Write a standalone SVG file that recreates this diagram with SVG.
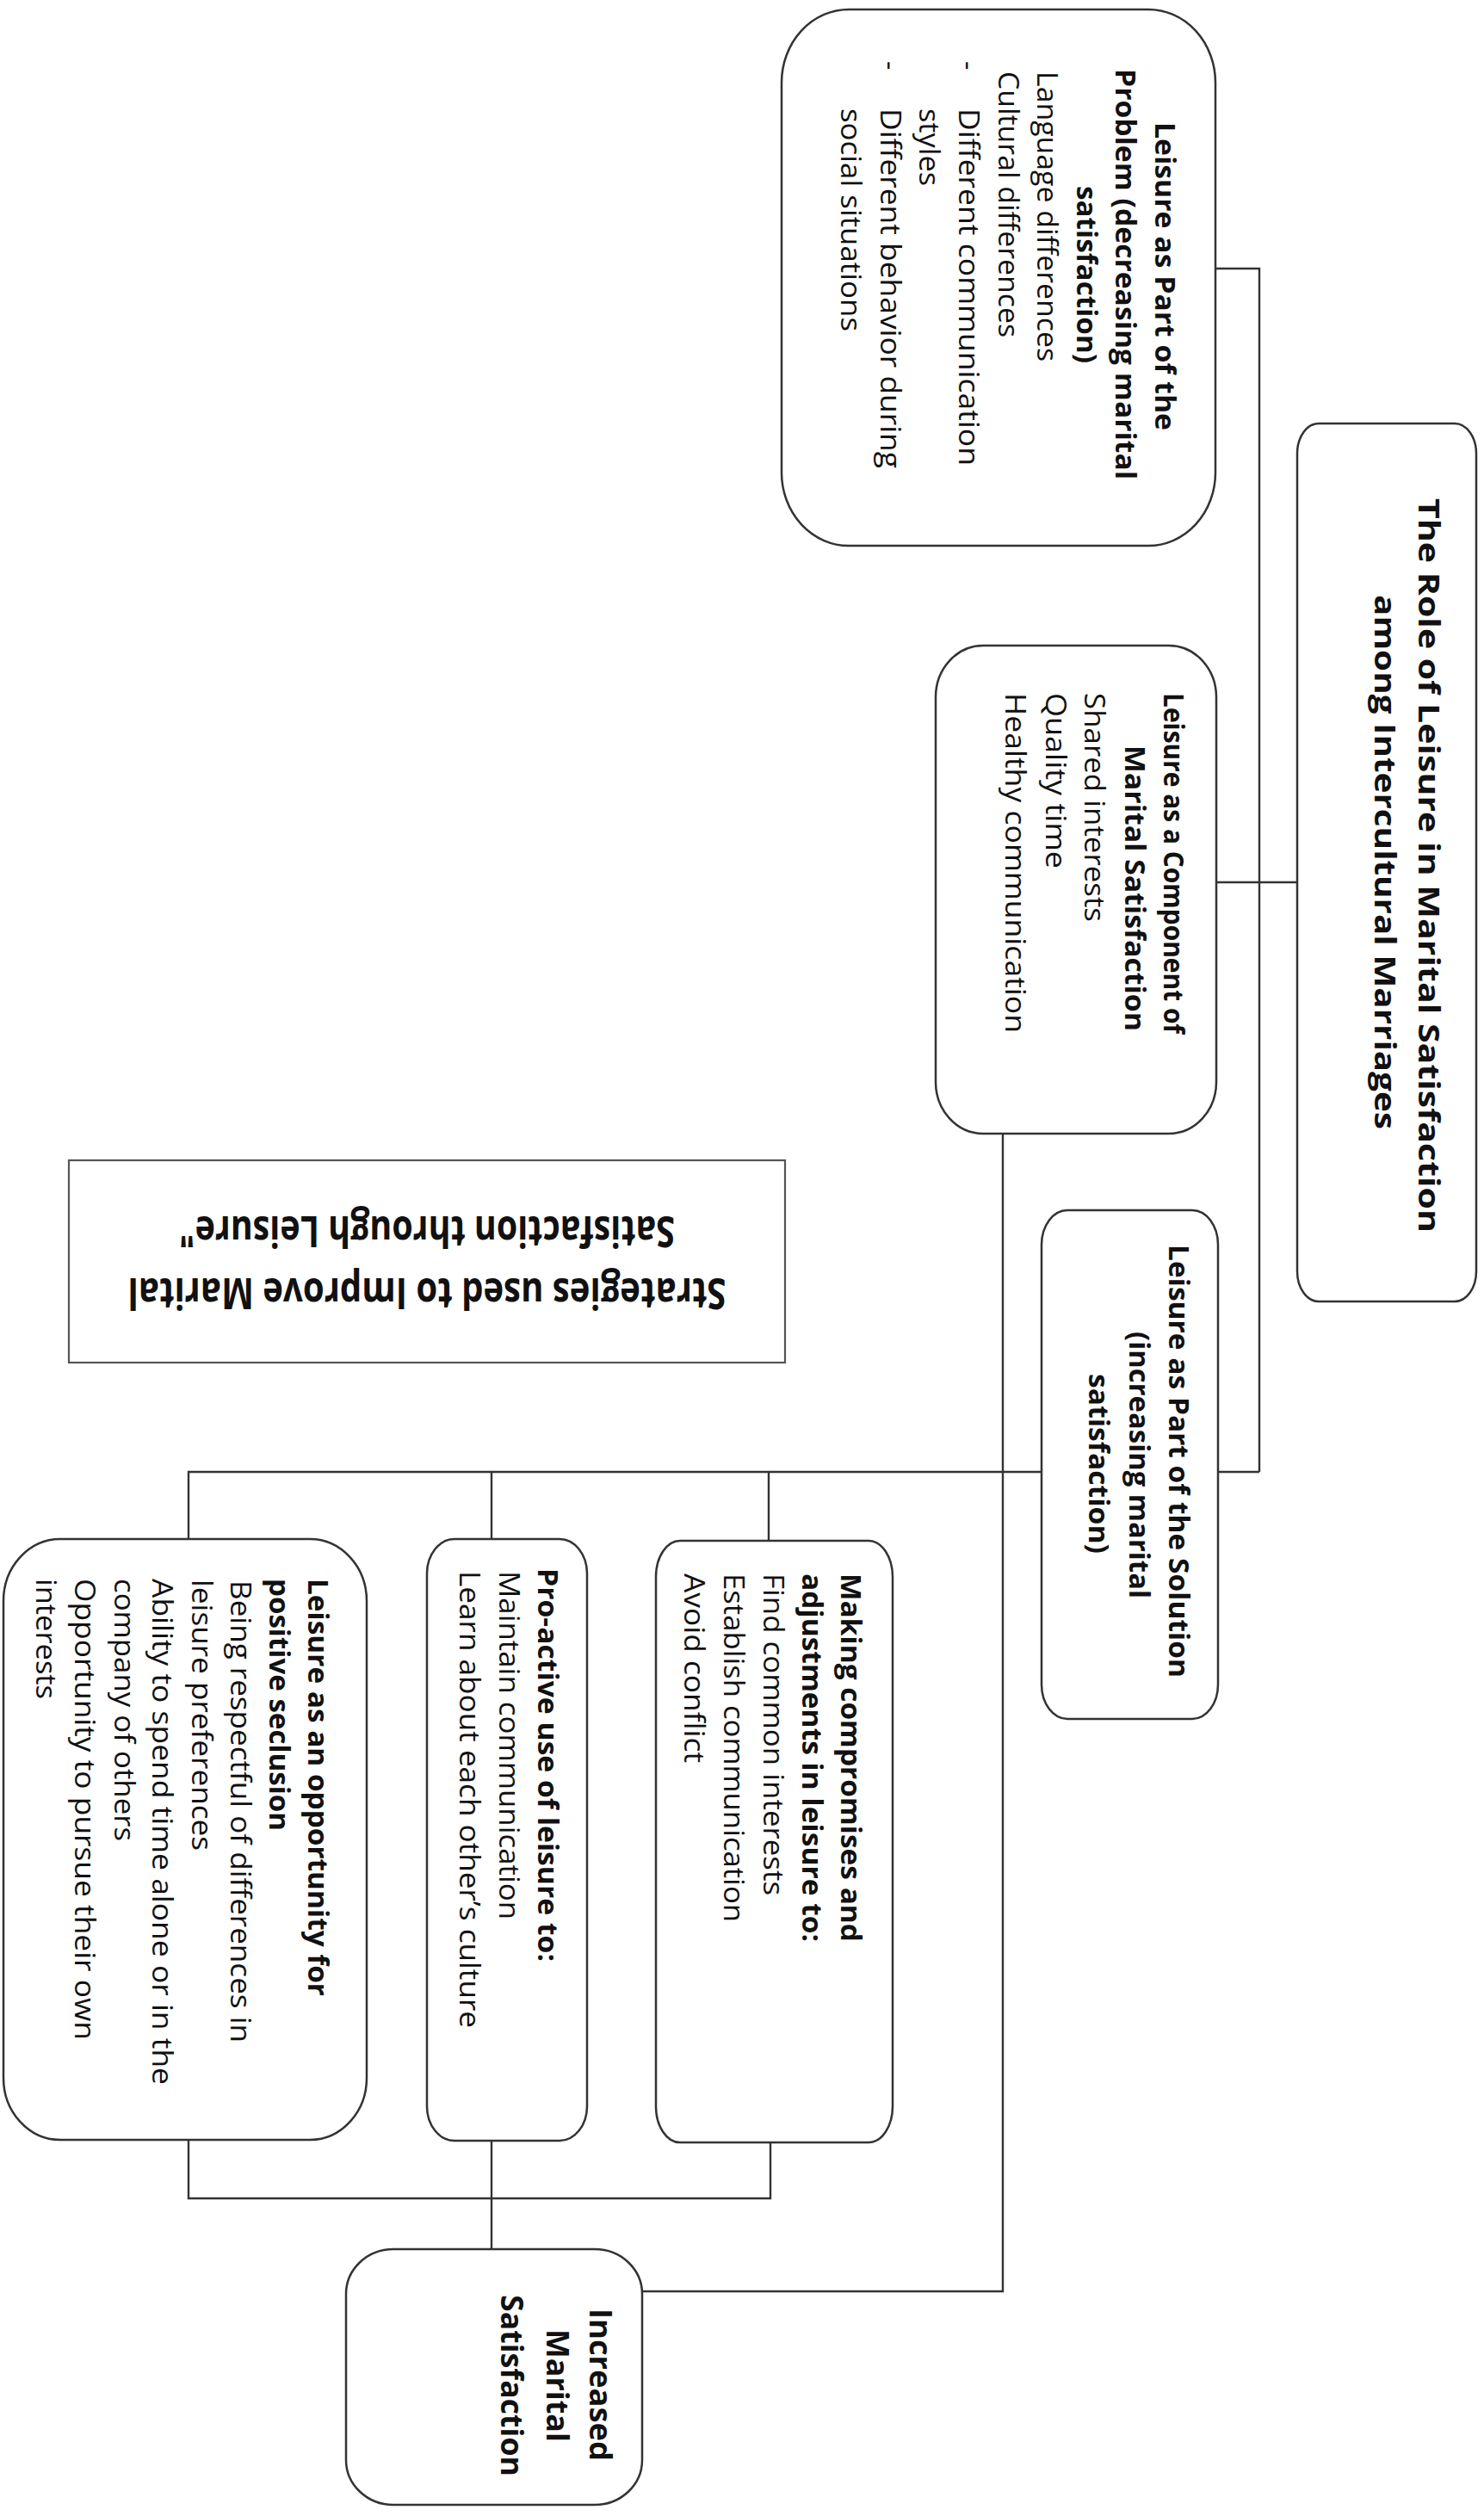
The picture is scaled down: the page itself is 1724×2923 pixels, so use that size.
<svg xmlns="http://www.w3.org/2000/svg" width="1724" height="2923" viewBox="0 0 1724 2923">
<style>
.box{fill:#fff;stroke:#333;stroke-width:2.5}
.plain{fill:#fff;stroke:#555;stroke-width:2.2}
.conn{fill:none;stroke:#333;stroke-width:2.4}
text{font-family:"Open Sans","Liberation Sans",sans-serif;fill:#111;font-size:32px}
.b{font-weight:700}
.ttl{font-size:34px;font-weight:700}
.big{font-size:36px}
.str{font-size:40px;font-weight:700}
</style>
<rect width="1724" height="2923" fill="#fff"/>
<g id="connectors">
<path class="conn" d="M1412,312 H1463 V1710"/>
<path class="conn" d="M1413,1025 H1507"/>
<path class="conn" d="M1415,1710 H1463"/>
<path class="conn" d="M1210,1710 H219 V1788"/>
<path class="conn" d="M571,1710 V1788"/>
<path class="conn" d="M893,1710 V1790"/>
<path class="conn" d="M219,2487 V2554 H895 V2489"/>
<path class="conn" d="M571,2487 V2613"/>
<path class="conn" d="M1165,1317 V2662 H746"/>
</g>
<g id="node-title">
<rect class="box" x="1507" y="492" width="208" height="1020" rx="25" ry="35"/>
<text class="ttl" transform="translate(1648,579) rotate(90)" textLength="853" lengthAdjust="spacingAndGlyphs">The Role of Leisure in Marital Satisfaction</text>
<text class="ttl" transform="translate(1597,691) rotate(90)" textLength="621" lengthAdjust="spacingAndGlyphs">among Intercultural Marriages</text>
</g>
<g id="node-problem">
<rect class="box" x="908" y="11" width="504" height="623" rx="78" ry="85"/>
<text class="b" transform="translate(1342,142) rotate(90)" textLength="358" lengthAdjust="spacingAndGlyphs">Leisure as Part of the</text>
<text class="b" transform="translate(1296,80) rotate(90)" textLength="477" lengthAdjust="spacingAndGlyphs">Problem (decreasing marital</text>
<text class="b" transform="translate(1251,216) rotate(90)" textLength="206" lengthAdjust="spacingAndGlyphs">satisfaction)</text>
<text transform="translate(1205,83) rotate(90)" textLength="337" lengthAdjust="spacingAndGlyphs">Language differences</text>
<text transform="translate(1160,83) rotate(90)" textLength="309" lengthAdjust="spacingAndGlyphs">Cultural differences</text>
<text transform="translate(1114,71) rotate(90)">-</text>
<text transform="translate(1114,126) rotate(90)" textLength="415" lengthAdjust="spacingAndGlyphs">Different communication</text>
<text transform="translate(1068,126) rotate(90)" textLength="90" lengthAdjust="spacingAndGlyphs">styles</text>
<text transform="translate(1023,71) rotate(90)">-</text>
<text transform="translate(1023,126) rotate(90)" textLength="418" lengthAdjust="spacingAndGlyphs">Different behavior during</text>
<text transform="translate(977,126) rotate(90)" textLength="259" lengthAdjust="spacingAndGlyphs">social situations</text>
</g>
<g id="node-component">
<rect class="box" x="1087" y="750" width="326" height="567" rx="55" ry="60"/>
<text class="b" transform="translate(1352,805) rotate(90)" textLength="396" lengthAdjust="spacingAndGlyphs">Leisure as a Component of</text>
<text class="b" transform="translate(1307,866) rotate(90)" textLength="332" lengthAdjust="spacingAndGlyphs">Marital Satisfaction</text>
<text transform="translate(1260,805) rotate(90)" textLength="266" lengthAdjust="spacingAndGlyphs">Shared interests</text>
<text transform="translate(1215,805) rotate(90)" textLength="204" lengthAdjust="spacingAndGlyphs">Quality time</text>
<text transform="translate(1168,805) rotate(90)" textLength="395" lengthAdjust="spacingAndGlyphs">Healthy communication</text>
</g>
<g id="node-solution">
<rect class="box" x="1210" y="1406" width="205" height="591" rx="30" ry="40"/>
<text class="b" transform="translate(1358,1446) rotate(90)" textLength="503" lengthAdjust="spacingAndGlyphs">Leisure as Part of the Solution</text>
<text class="b" transform="translate(1312,1547) rotate(90)" textLength="310" lengthAdjust="spacingAndGlyphs">(increasing marital</text>
<text class="b" transform="translate(1265,1596) rotate(90)" textLength="209" lengthAdjust="spacingAndGlyphs">satisfaction)</text>
</g>
<g id="node-strategies">
<rect class="plain" x="80" y="1348" width="832" height="235"/>
<text class="str" text-anchor="middle" transform="translate(496,1485) rotate(180) scale(1,1.25)" textLength="695" lengthAdjust="spacingAndGlyphs">Strategies used to Improve Marital</text>
<text class="str" text-anchor="middle" transform="translate(496,1413) rotate(180) scale(1,1.25)" textLength="576" lengthAdjust="spacingAndGlyphs">Satisfaction through Leisure"</text>
</g>
<g id="node-compromises">
<rect class="box" x="762" y="1790" width="275" height="699" rx="28" ry="42"/>
<text class="b" transform="translate(977,1828) rotate(90)" textLength="428" lengthAdjust="spacingAndGlyphs">Making compromises and</text>
<text class="b" transform="translate(932,1828) rotate(90)" textLength="428" lengthAdjust="spacingAndGlyphs">adjustments in leisure to:</text>
<text transform="translate(887,1828) rotate(90)" textLength="374" lengthAdjust="spacingAndGlyphs">Find common interests</text>
<text transform="translate(841,1828) rotate(90)" textLength="405" lengthAdjust="spacingAndGlyphs">Establish communication</text>
<text transform="translate(795,1828) rotate(90)" textLength="220" lengthAdjust="spacingAndGlyphs">Avoid conflict</text>
</g>
<g id="node-proactive">
<rect class="box" x="496" y="1788" width="186" height="699" rx="32" ry="40"/>
<text class="b" transform="translate(625,1822) rotate(90)" textLength="457" lengthAdjust="spacingAndGlyphs">Pro-active use of leisure to:</text>
<text transform="translate(580,1825) rotate(90)" textLength="405" lengthAdjust="spacingAndGlyphs">Maintain communication</text>
<text transform="translate(534,1825) rotate(90)" textLength="531" lengthAdjust="spacingAndGlyphs">Learn about each other’s culture</text>
</g>
<g id="node-seclusion">
<rect class="box" x="4" y="1788" width="422" height="698" rx="66" ry="72"/>
<text class="b" transform="translate(358,1834) rotate(90)" textLength="485" lengthAdjust="spacingAndGlyphs">Leisure as an opportunity for</text>
<text class="b" transform="translate(313,1834) rotate(90)" textLength="293" lengthAdjust="spacingAndGlyphs">positive seclusion</text>
<text transform="translate(268,1836) rotate(90)" textLength="537" lengthAdjust="spacingAndGlyphs">Being respectful of differences in</text>
<text transform="translate(223,1835) rotate(90)" textLength="315" lengthAdjust="spacingAndGlyphs">leisure preferences</text>
<text transform="translate(177,1834) rotate(90)" textLength="588" lengthAdjust="spacingAndGlyphs">Ability to spend time alone or in the</text>
<text transform="translate(133,1834) rotate(90)" textLength="305" lengthAdjust="spacingAndGlyphs">company of others</text>
<text transform="translate(87,1834) rotate(90)" textLength="536" lengthAdjust="spacingAndGlyphs">Opportunity to pursue their own</text>
<text transform="translate(42,1834) rotate(90)" textLength="140" lengthAdjust="spacingAndGlyphs">interests</text>
</g>
<g id="node-increased">
<rect class="box" x="402" y="2613" width="344" height="297" rx="55" ry="52"/>
<text class="b big" transform="translate(685,2682) rotate(90)" textLength="177" lengthAdjust="spacingAndGlyphs">Increased</text>
<text class="b big" transform="translate(635,2706) rotate(90)" textLength="131" lengthAdjust="spacingAndGlyphs">Marital</text>
<text class="b big" transform="translate(582,2666) rotate(90)" textLength="211" lengthAdjust="spacingAndGlyphs">Satisfaction</text>
</g>
</svg>
